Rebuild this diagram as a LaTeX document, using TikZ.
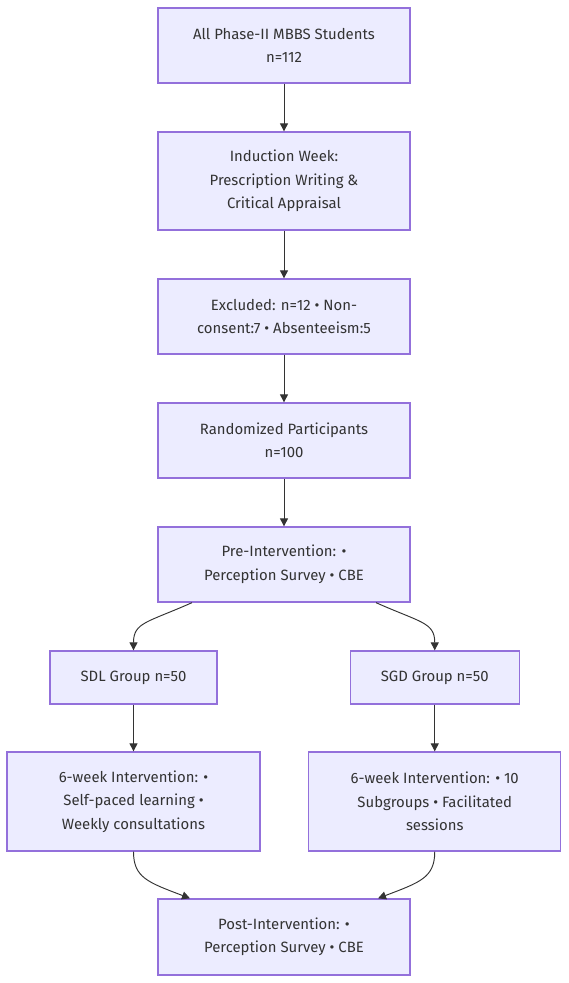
\documentclass[tikz,border=0pt]{standalone}
\usepackage{fontspec}
\setmainfont{Fira Sans}
\usetikzlibrary{arrows.meta,calc}
\definecolor{boxfill}{HTML}{ECECFF}
\definecolor{boxline}{HTML}{9370DB}
\definecolor{ink}{HTML}{333333}
\tikzset{
  box/.style={draw=boxline, fill=boxfill, line width=1.3pt, align=center,
    text=ink, inner sep=0pt, font=\fontsize{14.9}{23.5}\selectfont},
  conn/.style={draw=ink, line width=0.95pt, -{Triangle[length=8pt,width=8pt]}}
}
\begin{document}
\begin{tikzpicture}[x=1pt,y=-1pt]
\useasboundingbox (0,0) rectangle (569,983);
\node[box, minimum width=252pt, minimum height=75pt] (all) at (284,45.5) {All Phase-II MBBS Students\\n=112};
\node[box, minimum width=252pt, minimum height=98pt] (ind) at (284,181) {Induction Week:\\Prescription Writing \&\\Critical Appraisal};
\node[box, minimum width=252pt, minimum height=75pt] (exc) at (284,316.5) {Excluded: n=12 • Non-\\consent:7 • Absenteeism:5};
\node[box, minimum width=252pt, minimum height=75pt] (rand) at (284,440.5) {Randomized Participants\\n=100};
\node[box, minimum width=252pt, minimum height=75pt] (pre) at (284,564.5) {Pre-Intervention: •\\Perception Survey • CBE};
\node[box, minimum width=167pt, minimum height=53pt] (sdl) at (133.5,677.5) {SDL Group n=50};
\node[box, minimum width=169pt, minimum height=53pt] (sgd) at (434.75,677.5) {SGD Group n=50};
\node[box, minimum width=253pt, minimum height=99pt] (lint) at (133.5,801.5) {6-week Intervention: •\\Self-paced learning •\\Weekly consultations};
\node[box, minimum width=252pt, minimum height=99pt] (rint) at (434.75,801.5) {6-week Intervention: • 10\\Subgroups • Facilitated\\sessions};
\node[box, minimum width=252pt, minimum height=76pt] (post) at (284,937) {Post-Intervention: •\\Perception Survey • CBE};

\draw[conn] (all) -- (ind);
\draw[conn] (ind) -- (exc);
\draw[conn] (exc) -- (rand);
\draw[conn] (rand) -- (pre);
\draw[conn] ($(pre.south)+(-92,0)$) .. controls +(-45,20) and +(0,-28) .. (sdl.north);
\draw[conn] ($(pre.south)+(92,0)$) .. controls +(45,20) and +(0,-28) .. (sgd.north);
\draw[conn] (sdl) -- (lint);
\draw[conn] (sgd) -- (rint);
\draw[conn] (lint.south) .. controls +(0,26) and +(-42,-16) .. ($(post.north)+(-94,0)$);
\draw[conn] (rint.south) .. controls +(0,26) and +(42,-16) .. ($(post.north)+(94,0)$);
\end{tikzpicture}
\end{document}
